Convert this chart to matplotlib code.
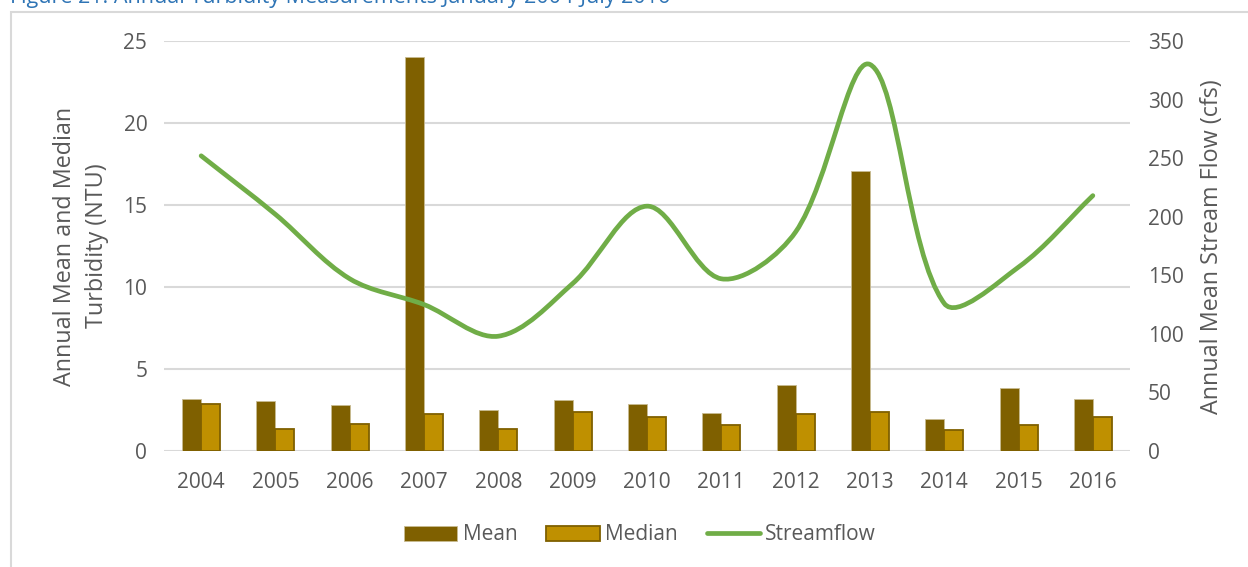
import matplotlib
matplotlib.use("Agg")
import matplotlib.pyplot as plt
from matplotlib.patches import Patch, Rectangle, PathPatch
from matplotlib.lines import Line2D
from matplotlib.path import Path
import numpy as np

# ---- data ----
years = ["2004", "2005", "2006", "2007", "2008", "2009", "2010",
         "2011", "2012", "2013", "2014", "2015", "2016"]
mean_ntu = [3.16, 3.06, 2.83, 24.0, 2.49, 3.12, 2.89, 2.30, 4.02, 17.05, 1.96, 3.87, 3.20]
median_ntu = [2.89, 1.36, 1.63, 2.24, 1.36, 2.40, 2.10, 1.61, 2.24, 2.40, 1.28, 1.61, 2.10]
streamflow = [252, 202, 147, 125, 98, 143, 209, 147, 187, 330, 126, 157, 218]

left_ticks = [0, 5, 10, 15, 20, 25]
right_ticks = [0, 50, 100, 150, 200, 250, 300, 350]

# ---- style ----
FONT = "Open Sans"
TXT = "#595959"
GRID = "#D9D9D9"
MEAN_C = "#7F6000"
MEDIAN_C = "#BF9000"
FLOW_C = "#70AD47"
FS = 15
TITLE_FS = 16.8

plt.rcParams["font.family"] = [FONT, "DejaVu Sans"]

W, H = 1248, 567
fig = plt.figure(figsize=(W / 100, H / 100), dpi=100)

# outer chart frame
fig.patches.append(Rectangle((11 / W, -0.05), 1.2, 0.05 + (1 - 12 / H),
                             transform=fig.transFigure, fill=False,
                             edgecolor=GRID, linewidth=1.5, clip_on=False))

# document heading sitting above the chart frame
fig.text(10 / W, 1 - 3 / H, "Figure 21: Annual Turbidity Measurements January 2004-July 2016",
         color="#2E74B5", fontsize=15.5, ha="left", va="baseline")

ax = fig.add_axes([164 / W, 1 - 451 / H, (1130 - 164) / W, (451 - 41) / H])
ax2 = ax.twinx()

x = np.arange(len(years))
bw = 0.256
ax.bar(x - bw / 2, mean_ntu, width=bw, color=MEAN_C, edgecolor="#C8BB92",
       linewidth=0.6, zorder=3)
ax.bar(x + bw / 2, median_ntu, width=bw, color=MEDIAN_C, edgecolor=MEAN_C,
       linewidth=1.3, zorder=3)

ax.set_xlim(-0.5, len(years) - 0.5)
ax.set_ylim(0, 25)
ax.set_yticks(left_ticks)
ax.set_xticks(x)
ax.set_xticklabels(years)
ax.yaxis.grid(True, color=GRID, linewidth=1.5)
ax.set_axisbelow(True)
for s in list(ax.spines.values()) + list(ax2.spines.values()):
    s.set_visible(False)
ax.tick_params(axis="both", length=0, labelsize=FS, labelcolor=TXT)
ax.tick_params(axis="y", pad=12)
ax.tick_params(axis="x", pad=15)

ax2.set_xlim(ax.get_xlim())
ax2.set_ylim(0, 350)
ax2.set_yticks(right_ticks)
ax2.tick_params(axis="y", length=0, labelsize=FS, labelcolor=TXT, pad=13)

# smoothed streamflow curve: cubic Bezier through every point, tangent handles
# weighted by the neighbouring chord lengths in display space
disp = ax2.transData.transform(np.column_stack([x, streamflow]).astype(float))
ext = np.vstack([disp[0], disp, disp[-1]])
verts = [disp[0]]
codes = [Path.MOVETO]
for i in range(len(disp) - 1):
    p0, p1, p2, p3 = ext[i], ext[i + 1], ext[i + 2], ext[i + 3]
    d01 = np.linalg.norm(p1 - p0)
    d12 = np.linalg.norm(p2 - p1)
    d23 = np.linalg.norm(p3 - p2)
    a = d12 / (d01 + d12) if d01 + d12 > 0 else 0.5
    b = d12 / (d12 + d23) if d12 + d23 > 0 else 0.5
    c1 = p1 + (p2 - p0) * a / 3.0
    c2 = p2 - (p3 - p1) * b / 3.0
    verts += [c1, c2, p2]
    codes += [Path.CURVE4] * 3
verts = ax2.transData.inverted().transform(np.array(verts))
ax2.add_patch(PathPatch(Path(verts, codes), fill=False, edgecolor=FLOW_C,
                        linewidth=3.4, capstyle="round", joinstyle="round", zorder=4))

# axis titles
fig.text(81 / W, 1 - 246 / H, "Annual Mean and Median\nTurbidity (NTU)", rotation=90,
         ha="center", va="center", fontsize=TITLE_FS, color=TXT, linespacing=1.45,
         multialignment="center")
fig.text(1212 / W, 1 - 247 / H, "Annual Mean Stream Flow (cfs)", rotation=90,
         ha="center", va="center", fontsize=TITLE_FS, color=TXT)

handles = [Patch(facecolor=MEAN_C, edgecolor="#C8BB92", linewidth=0.6),
           Patch(facecolor=MEDIAN_C, edgecolor=MEAN_C, linewidth=1.3),
           Line2D([0], [0], color=FLOW_C, linewidth=3.4, solid_capstyle="round")]
fig.legend(handles, ["Mean", "Median", "Streamflow"], loc="center",
           bbox_to_anchor=(640 / W, 1 - 535 / H), ncol=3, frameon=False,
           fontsize=FS, labelcolor=TXT, handlelength=2.55, handleheight=0.7,
           handletextpad=0.25, columnspacing=1.4)

fig.savefig("out.png", dpi=100)
